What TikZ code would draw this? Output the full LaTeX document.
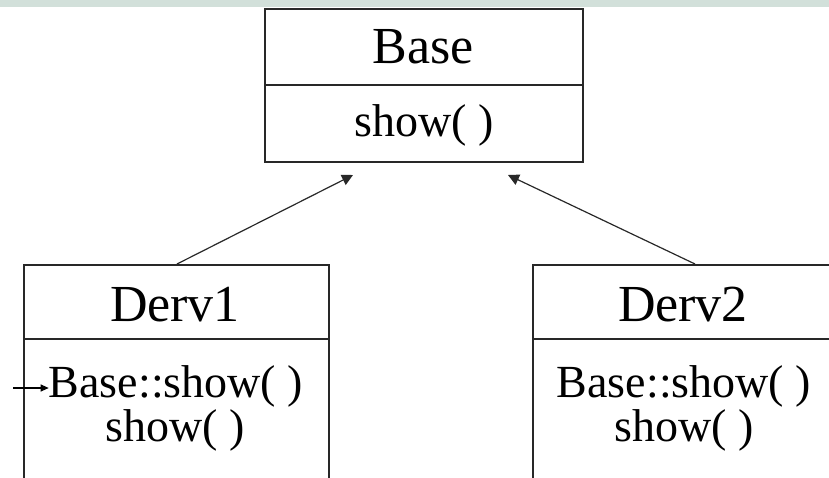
\documentclass[tikz,border=0pt]{standalone}
\usepackage{fontspec}
\setmainfont{Liberation Serif}
\usetikzlibrary{arrows.meta}
\definecolor{bandgreen}{RGB}{210,224,218}
\definecolor{boxline}{RGB}{40,40,40}
\tikzset{
  classbox/.style={draw=boxline, line width=1.6pt, rectangle, inner sep=0pt, anchor=north west},
  divider/.style={draw=boxline, line width=1.4pt},
  classname/.style={anchor=base, inner sep=0pt, font=\fontsize{52}{60}\selectfont},
  method/.style={anchor=base, inner sep=0pt, font=\fontsize{46}{54}\selectfont},
  inherit/.style={draw=boxline, line width=1.2pt, -{Triangle[length=11pt,width=11pt]}},
  pointer/.style={draw=black, line width=1.1pt, -{Triangle[length=8pt,width=7pt]}}
}
\begin{document}
\begin{tikzpicture}[x=1pt,y=-1pt]
  \useasboundingbox (0,0) rectangle (829,478);
  \clip (0,0) rectangle (829,478);
  \fill[bandgreen] (0,0) rectangle (829,7);

  % class boxes
  \node[classbox, minimum width=318pt, minimum height=153pt] (base) at (264,8) {};
  \draw[divider] (264,85) -- (582,85);
  \node[classname] (basename) at (423,64) {Base};
  \node[method] (baseshow) at (424,137) {show( )};

  \node[classbox, minimum width=305pt, minimum height=260pt] (derv1) at (23,264) {};
  \draw[divider] (23,339) -- (328,339);
  \node[classname] (d1name) at (175,321) {Derv1};
  \node[method] (d1base) at (176,397) {Base::show( )};
  \node[method] (d1show) at (175,441) {show( )};

  \node[classbox, minimum width=305pt, minimum height=260pt] (derv2) at (532,264) {};
  \draw[divider] (532,339) -- (837,339);
  \node[classname] (d2name) at (683,321) {Derv2};
  \node[method] (d2base) at (684,397) {Base::show( )};
  \node[method] (d2show) at (684,441) {show( )};

  % inheritance connectors
  \coordinate (d1top) at (177,264);
  \coordinate (tip1) at (353,175);
  \coordinate (d2top) at (695,264);
  \coordinate (tip2) at (508,175);
  \draw[inherit] (d1top) -- (tip1);
  \draw[inherit] (d2top) -- (tip2);

  % pointer to the inherited method
  \coordinate (ptrstart) at (13,388);
  \draw[pointer] (ptrstart) -- (d1base.west |- ptrstart);
\end{tikzpicture}
\end{document}
